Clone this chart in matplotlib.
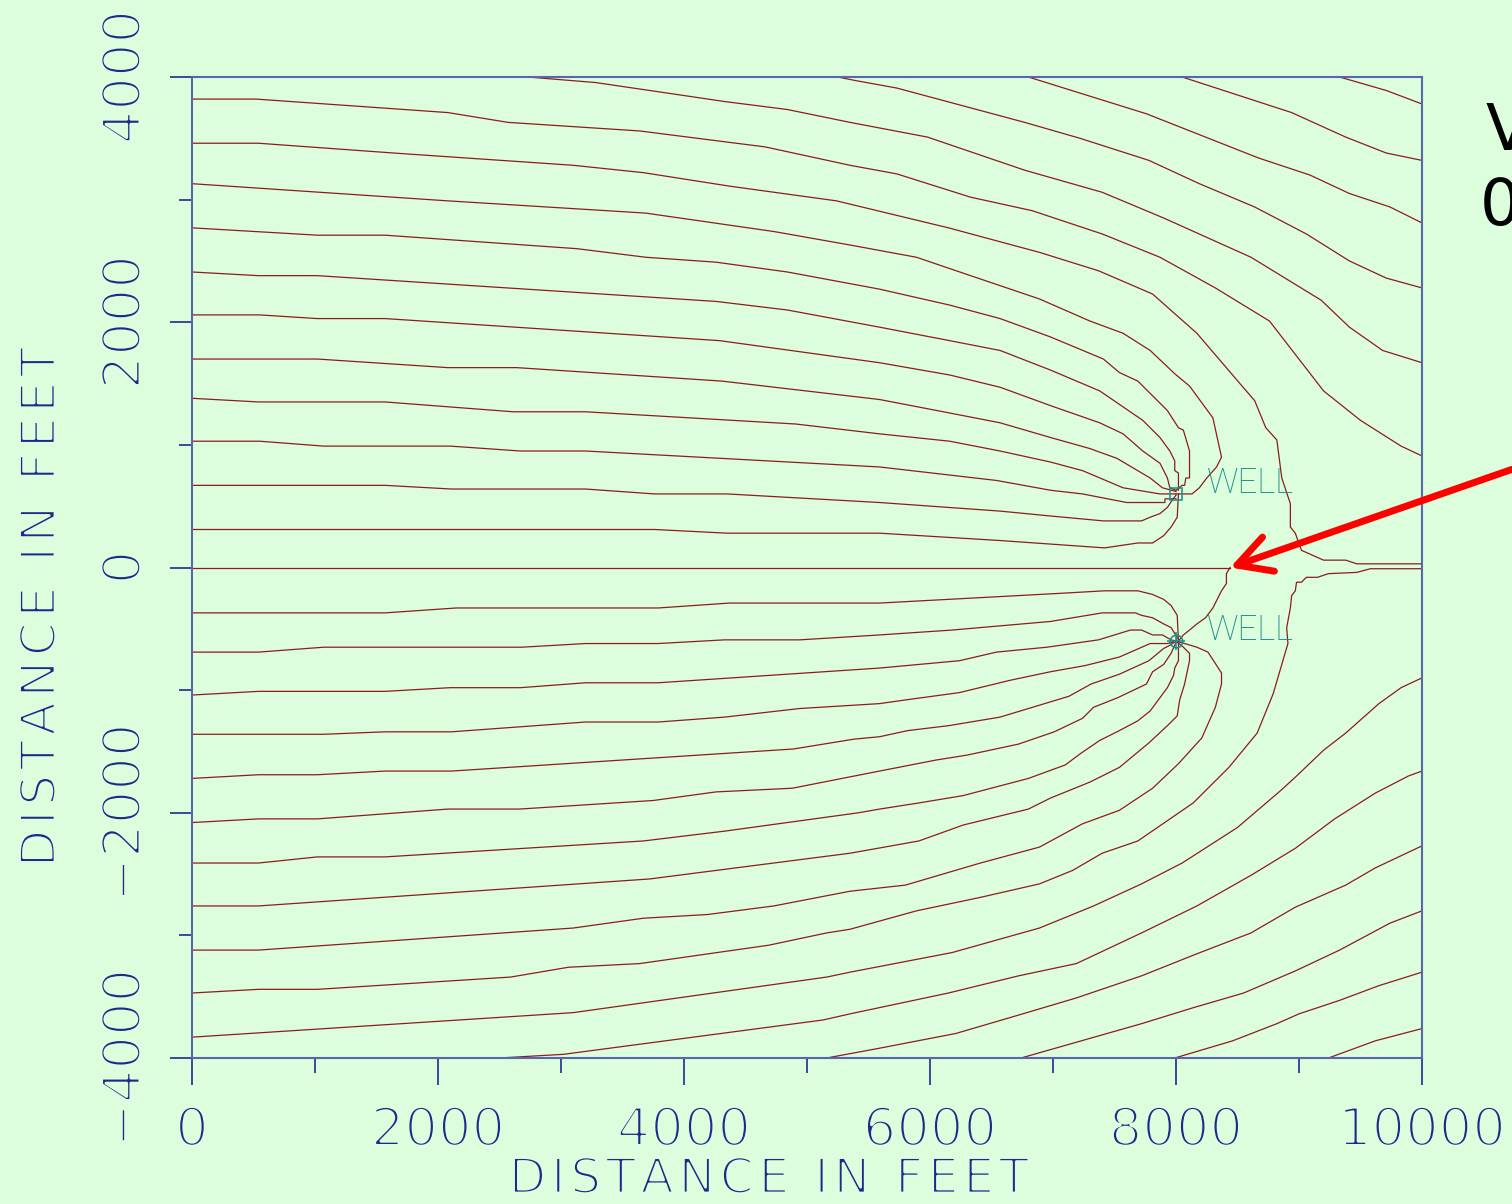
import matplotlib
matplotlib.use("Agg")
import matplotlib.pyplot as plt
import matplotlib.patheffects as pe

# colours
BG = '#dcfedc'
LINE = '#8c1c1c'
NAVY = '#1c2a8c'
FRAME = '#5866b0'
TEAL = '#1a8c8c'

# wells (ft)
well_x = [8000, 8000]
well_y = [600, -600]

# stagnation point and arrow tail (ft)
stag = (8440, 0)
arrow_tail = (10730, 800)

# streamlines, (x ft, y ft) vertices
# --- upper half, entering through the top edge
t1 = [(9330, 4000), (9710, 3890), (10000, 3780)]
t2 = [(8050, 4000), (8940, 3710), (9380, 3510), (9710, 3380), (10000, 3320)]
t3 = [(6800, 4000), (7760, 3700), (8670, 3340), (9090, 3200), (9410, 3050),
      (9740, 2940), (10000, 2810)]
t4 = [(5250, 4000), (5400, 3970), (5730, 3910), (6770, 3630), (7220, 3500),
      (7780, 3320), (8190, 3130), (8640, 2940), (9060, 2720), (9410, 2500),
      (9710, 2360), (10000, 2280)]
t5 = [(2730, 4000), (3280, 3955), (3790, 3880), (4330, 3800), (4840, 3735),
      (5350, 3630), (5980, 3510), (6770, 3240), (7400, 3060), (7900, 2850),
      (8610, 2530), (9180, 2180), (9410, 1960), (9680, 1770), (10000, 1670)]
# --- upper half, entering through the left edge
u1 = [(0, 3820), (520, 3820), (2080, 3710), (2570, 3630), (3640, 3560),
      (4660, 3430), (5350, 3280), (5730, 3210), (6330, 3020), (6830, 2910),
      (7400, 2720), (7870, 2530), (8320, 2280), (8760, 2010), (9200, 1440),
      (9500, 1200), (9830, 990), (10000, 910)]
u2 = [(0, 3460), (540, 3460), (1640, 3380), (3100, 3280), (3670, 3220),
      (4370, 3110), (5240, 2990), (6150, 2770), (6890, 2570), (7370, 2420),
      (7810, 2230), (8170, 1910), (8460, 1570), (8640, 1360), (8730, 1140),
      (8820, 1040), (8860, 730), (8930, 520), (8930, 330), (8970, 280),
      (9020, 140), (9200, 60), (9380, 60), (9470, 30), (10000, 30)]
u3 = [(0, 3130), (2080, 2990), (3690, 2890), (4730, 2740), (5350, 2630),
      (5890, 2530), (6330, 2380), (6890, 2190), (7300, 2010), (7570, 1910),
      (7790, 1770), (7990, 1580), (8110, 1480), (8300, 1220), (8370, 900),
      (8330, 820), (8250, 730), (8190, 650), (8130, 600), (8000, 600)]
u4 = [(0, 2770), (1020, 2710), (1570, 2710), (3130, 2600), (3690, 2530),
      (4260, 2490), (4840, 2410), (5590, 2270), (6160, 2140), (6570, 2030),
      (6980, 1880), (7410, 1700), (7540, 1590), (7690, 1520), (7930, 1280),
      (8020, 1140), (8060, 1120), (8110, 950), (8110, 730), (8080, 730),
      (8070, 670), (8050, 670), (8000, 630)]
u5 = [(0, 2410), (540, 2380), (1020, 2380), (4260, 2170), (4840, 2100),
      (5590, 1960), (6160, 1850), (6570, 1770), (6980, 1610), (7380, 1440),
      (7730, 1200), (7870, 1060), (7950, 950), (7990, 870), (7990, 790),
      (8020, 770), (8020, 630)]
u6 = [(0, 2060), (550, 2060), (1020, 2030), (1570, 2030), (4290, 1850),
      (5590, 1670), (6160, 1570), (6570, 1470), (6980, 1320), (7380, 1180),
      (7570, 1090), (7730, 950), (7870, 850), (7930, 730), (7950, 650),
      (8000, 630)]
u7 = [(0, 1700), (1020, 1700), (2080, 1630), (2640, 1630), (4310, 1520),
      (5590, 1370), (6160, 1260), (6570, 1180), (6980, 1060), (7300, 970),
      (7520, 890), (7790, 730), (7890, 650), (8000, 620)]
u8 = [(0, 1380), (540, 1350), (1570, 1350), (2610, 1270), (3200, 1270),
      (4910, 1170), (5590, 1090), (6160, 1030), (6570, 950), (6980, 860),
      (7240, 790), (7570, 650), (7690, 630), (7870, 600), (8000, 600)]
u9 = [(0, 1030), (550, 1030), (1070, 990), (2100, 990), (2670, 950),
      (3200, 950), (5590, 820), (6540, 710), (6980, 630), (7240, 600),
      (7600, 530), (7910, 530), (7910, 560), (8000, 560)]
u10 = [(0, 670), (1570, 670), (2110, 640), (3200, 640), (3760, 600),
       (4350, 600), (5590, 530), (6570, 460), (6980, 420), (7410, 380),
       (7720, 380), (7790, 410), (7870, 440), (7930, 490), (7970, 550),
       (8000, 590)]
u11 = [(0, 310), (3760, 310), (4350, 280), (5590, 280), (6570, 220),
       (7420, 160), (7690, 200), (7810, 200), (7900, 260), (7960, 330),
       (8010, 410), (8020, 600)]
# --- centre line and the divide running down to the lower well
zero = [(0, 0), (8440, 0)]
divide = [(8440, 0), (8410, -50), (8410, -130), (8370, -190), (8330, -270),
          (8300, -330), (8240, -410), (8170, -460), (8110, -510),
          (8060, -550), (8020, -600)]
# --- lower half, entering through the left edge
l1 = [(0, -370), (1570, -370), (2150, -330), (3790, -330), (4370, -290),
      (5590, -290), (7070, -210), (7420, -190), (7690, -190), (7810, -220),
      (7900, -260), (7960, -310), (8010, -390), (8020, -600)]
l2 = [(0, -690), (540, -690), (1070, -650), (2680, -650), (3200, -620),
      (3790, -620), (4330, -590), (4940, -590), (5590, -550), (6180, -510),
      (6980, -440), (7400, -370), (7670, -370), (7720, -390), (7810, -410),
      (7900, -460), (7960, -490), (8010, -570), (8000, -600)]
l3 = [(0, -1040), (540, -1010), (1570, -1010), (2100, -980), (2670, -980),
      (3200, -940), (3790, -940), (5590, -820), (6240, -760), (6540, -690),
      (6950, -650), (7370, -590), (7630, -510), (7720, -510), (7810, -550),
      (7890, -550), (7960, -590), (8000, -600)]
l4 = [(0, -1360), (1070, -1360), (1570, -1340), (2110, -1340), (3200, -1260),
      (3790, -1260), (4330, -1220), (4940, -1150), (5590, -1110),
      (5800, -1080), (6240, -1020), (6650, -920), (6980, -850), (7260, -800),
      (7540, -730), (7790, -620), (7930, -620), (8000, -600)]
l5 = [(0, -1720), (540, -1690), (1020, -1690), (1570, -1660), (2110, -1660),
      (4890, -1480), (5380, -1400), (5590, -1380), (5820, -1330),
      (6150, -1290), (6570, -1220), (6800, -1150), (7130, -1050),
      (7310, -950), (7540, -870), (7780, -760), (7900, -660), (7940, -640),
      (8000, -600)]
l6 = [(0, -2080), (540, -2050), (1020, -2050), (2080, -1970), (2660, -1970),
      (3750, -1900), (4260, -1830), (4880, -1800), (5590, -1660),
      (6050, -1570), (6300, -1530), (6720, -1440), (7010, -1340),
      (7240, -1230), (7330, -1140), (7530, -1060), (7760, -950),
      (7810, -850), (7900, -790), (7960, -700), (8000, -610)]
l7 = [(0, -2410), (540, -2410), (1020, -2360), (1570, -2360), (3670, -2230),
      (4330, -2150), (5420, -2000), (5590, -1970), (5910, -1920),
      (6270, -1860), (6800, -1720), (7100, -1610), (7220, -1520),
      (7380, -1410), (7540, -1330), (7690, -1250), (7790, -1170),
      (7930, -980), (7980, -880), (7990, -820), (8020, -760), (8020, -600)]
l8 = [(0, -2760), (540, -2760), (3720, -2540), (5350, -2330), (5910, -2230),
      (6270, -2100), (6800, -1970), (6980, -1880), (7300, -1750),
      (7540, -1630), (7780, -1430), (7930, -1290), (8010, -1210),
      (8030, -1080), (8070, -950), (8110, -760), (8110, -700), (8090, -680),
      (8060, -650), (8000, -600)]
l9 = [(0, -3120), (540, -3120), (3100, -2940), (3670, -2860), (4190, -2830),
      (4730, -2760), (5350, -2640), (5800, -2590), (6410, -2410),
      (6890, -2280), (7240, -2090), (7540, -1980), (7810, -1800),
      (8020, -1600), (8210, -1390), (8320, -1140), (8370, -950),
      (8370, -860), (8260, -690), (8170, -650), (8070, -620), (8000, -600)]
l10 = [(0, -3470), (540, -3440), (1020, -3440), (2590, -3340), (3060, -3260),
       (3640, -3230), (4690, -3080), (5160, -2980), (5350, -2950),
       (5890, -2800), (6410, -2690), (6890, -2580), (7160, -2470),
       (7400, -2330), (7690, -2230), (8140, -1920), (8430, -1630),
       (8660, -1350), (8790, -1030), (8910, -620), (8900, -490),
       (8930, -330), (8940, -230), (8970, -190), (8980, -120), (9020, -120),
       (9060, -80), (9150, -80), (9240, -50), (9470, -40), (9580, -10),
       (10000, -10)]
l11 = [(0, -3830), (3100, -3630), (5160, -3340), (5350, -3300), (6180, -3140),
       (6890, -2940), (7330, -2760), (7720, -2580), (8050, -2410),
       (8500, -2120), (8850, -1820), (8970, -1710), (9200, -1490),
       (9380, -1350), (9650, -1110), (9830, -980), (10000, -900)]
# --- lower half, entering through the bottom edge
b5 = [(2500, -4000), (3020, -3970), (5130, -3690), (5350, -3640),
      (6150, -3470), (6720, -3330), (7190, -3230), (7720, -2980),
      (8170, -2760), (8610, -2510), (8970, -2290), (9290, -2050),
      (9620, -1840), (9890, -1700), (10000, -1660)]
b4 = [(5160, -4000), (5590, -3920), (6210, -3800), (6720, -3650),
      (7190, -3510), (7720, -3330), (8170, -3150), (8610, -2980),
      (8970, -2770), (9380, -2590), (9620, -2450), (10000, -2270)]
b3 = [(6740, -4000), (7160, -3880), (7720, -3720), (8140, -3590),
      (8550, -3470), (8970, -3290), (9330, -3120), (9740, -2900),
      (10000, -2800)]
b2 = [(7990, -4000), (8460, -3860), (8820, -3720), (9000, -3640),
      (9330, -3530), (9650, -3410), (10000, -3300)]
b1 = [(9240, -4000), (9620, -3860), (10000, -3760)]

streamlines = [t1, t2, t3, t4, t5, u1, u2, u3, u4, u5, u6, u7, u8, u9, u10,
               u11, zero, divide, l1, l2, l3, l4, l5, l6, l7, l8, l9, l10,
               l11, b5, b4, b3, b2, b1]

x_major = [0, 2000, 4000, 6000, 8000, 10000]
x_minor = [1000, 3000, 5000, 7000, 9000]
y_major = [-4000, -2000, 0, 2000, 4000]
y_minor = [-3000, -1000, 1000, 3000]

axis_title = 'DISTANCE IN FEET'

AXFONT = ['DejaVu Sans']
WELLFONT = ['Roboto', 'DejaVu Sans']

# thin the glyphs down to the plotter's stroke look
thin_ticks = [pe.Normal(), pe.Stroke(linewidth=2.2, foreground=BG)]
thin_title = [pe.Normal(), pe.Stroke(linewidth=2.0, foreground=BG)]

fig = plt.figure(figsize=(15.12, 12.04), dpi=100, facecolor=BG)
ax = fig.add_axes([0.12698, 0.12126, 0.81349, 0.81478], facecolor=BG)

for line in streamlines:
    xs = [p[0] for p in line]
    ys = [p[1] for p in line]
    ax.plot(xs, ys, color=LINE, lw=0.9, solid_joinstyle='miter')

# wells
ax.plot(well_x[0], well_y[0], marker='s', ms=9, mfc='none', mec=TEAL,
        mew=1.1, ls='none', zorder=5)
ax.plot(well_x[1], well_y[1], marker='o', ms=9, mfc='none', mec=TEAL,
        mew=1.1, ls='none', zorder=5)
ax.plot(well_x[1], well_y[1], marker='+', ms=13, mec=TEAL, mew=1.1,
        ls='none', zorder=5)
for wx, wy in zip(well_x, well_y):
    ax.text(wx + 250, wy + 90, 'WELL', color=TEAL, fontsize=25,
            family=WELLFONT, fontweight='light', ha='left', va='center')

ax.set_xlim(0, 10000)
ax.set_ylim(-4000, 4000)
ax.set_xticks(x_major)
ax.set_xticks(x_minor, minor=True)
ax.set_yticks(y_major)
ax.set_yticks(y_minor, minor=True)
ax.set_xticklabels([str(v) for v in x_major])
ax.set_yticklabels([str(v).replace('-', '\u2212') for v in y_major])

ax.tick_params(axis='x', which='major', length=19.5, width=1.2, color=NAVY,
               pad=14, labelsize=38, labelcolor=NAVY)
ax.tick_params(axis='x', which='minor', length=11, width=1.2, color=NAVY)
ax.tick_params(axis='y', which='major', length=16, width=1.2, color=NAVY,
               pad=13.5, labelsize=38, labelcolor=NAVY)
ax.tick_params(axis='y', which='minor', length=9.5, width=1.2, color=NAVY)
for lbl in ax.get_xticklabels() + ax.get_yticklabels():
    lbl.set_family(AXFONT)
    lbl.set_path_effects(thin_ticks)
for lbl in ax.get_yticklabels():
    lbl.set_rotation(90)
    lbl.set_va('center')

for sp in ax.spines.values():
    sp.set_color(FRAME)
    sp.set_linewidth(1.5)

# the plotter font is letter-spaced: hair spaces between the letters
spaced = '\u200a'.join(axis_title)
fig.text(769 / 1512, 1 - 1193 / 1204, spaced, color=NAVY, fontsize=35,
         family=AXFONT, ha='center', va='baseline', path_effects=thin_title)
fig.text(55 / 1512, 1 - 607 / 1204, spaced, color=NAVY, fontsize=35,
         family=AXFONT, ha='center', va='baseline', rotation=90,
         rotation_mode='anchor', path_effects=thin_title)

# red arrow to the stagnation point
ax.annotate('', xy=stag, xytext=arrow_tail, xycoords='data',
            textcoords='data', annotation_clip=False,
            arrowprops=dict(arrowstyle='->, head_length=2.4, head_width=1.3',
                            color='#ff0000', lw=5, capstyle='round',
                            joinstyle='round', shrinkA=0, shrinkB=0))

# black caption, cut by the right edge in the reference
fig.text(1485 / 1512, 1 - 150 / 1204, 'V', fontsize=46, color='black',
         ha='left', va='baseline')
fig.text(1480 / 1512, 1 - 225 / 1204, '0', fontsize=46, color='black',
         ha='left', va='baseline')

fig.savefig('out.png', dpi=100, facecolor=BG)
